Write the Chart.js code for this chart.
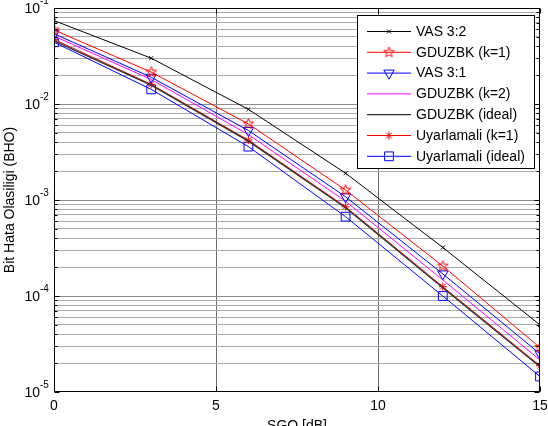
<!DOCTYPE html>
<html><head><meta charset="utf-8">
<script src="https://cdn.jsdelivr.net/npm/chart.js@4.4.1/dist/chart.umd.min.js"></script>
<style>html,body{margin:0;padding:0;background:#fff;}#wrap{width:548px;height:426px;position:relative;}</style>
</head><body><div id="wrap"><canvas id="c"></canvas></div>
<script>
const snr = [0, 3, 6, 9, 12, 15];
const vas32 = [0.074, 0.030, 0.0088, 0.0019, 3.2e-4, 5.0e-5];
const gduzbk1 = [0.059, 0.0215, 0.0062, 0.00127, 2.05e-4, 2.9e-5];
const vas31 = [0.054, 0.019, 0.0053, 0.00108, 1.7e-4, 2.5e-5];
const gduzbk2 = [0.051, 0.018, 0.0048, 0.00097, 1.47e-4, 2.15e-5];
const gduzbkIdeal = [0.0455, 0.0157, 0.0041, 8.3e-4, 1.22e-4, 1.83e-5];
const uyar1 = [0.047, 0.016, 0.0042, 8.5e-4, 1.25e-4, 1.88e-5];
const uyarIdeal = [0.044, 0.0142, 0.0036, 6.7e-4, 1.0e-4, 1.45e-5];
const xTicks = [0, 5, 10, 15];
const yMajorExp = [-5, -4, -3, -2, -1];
const seriesNames = ['VAS 3:2', 'GDUZBK (k=1)', 'VAS 3:1', 'GDUZBK (k=2)', 'GDUZBK (ideal)', 'Uyarlamali (k=1)', 'Uyarlamali (ideal)'];
const xTitle = 'SGO [dB]';
const yTitle = 'Bit Hata Olasiligi (BHO)';

const FONT = '"Liberation Sans", Arial, sans-serif';

function pentagram(color) {
  const c = document.createElement('canvas');
  c.width = 13; c.height = 13;
  const g = c.getContext('2d');
  g.strokeStyle = color; g.lineWidth = 1;
  g.beginPath();
  for (let i = 0; i < 10; i++) {
    const r = i % 2 === 0 ? 5.5 : 2.3;
    const a = -Math.PI / 2 + i * Math.PI / 5;
    const px = 6.5 + r * Math.cos(a), py = 6.5 + r * Math.sin(a);
    if (i === 0) g.moveTo(px, py); else g.lineTo(px, py);
  }
  g.closePath(); g.stroke();
  return c;
}
const starImg = pentagram('#ff0000');

function pts(arr) { return snr.map((x, i) => ({ x: x, y: arr[i] })); }

const datasets = [
  { label: seriesNames[0], data: pts(vas32), borderColor: '#000000', borderWidth: 1, pointStyle: 'crossRot', pointRadius: 2.8, pointBorderWidth: 1 },
  { label: seriesNames[1], data: pts(gduzbk1), borderColor: '#ff0000', borderWidth: 1, pointStyle: starImg, pointRadius: 6, pointBorderWidth: 1 },
  { label: seriesNames[2], data: pts(vas31), borderColor: '#0000ff', borderWidth: 1, pointStyle: 'triangle', pointRadius: 6, pointRotation: 180, pointBorderWidth: 1 },
  { label: seriesNames[3], data: pts(gduzbk2), borderColor: '#ff00ff', borderWidth: 1, pointStyle: 'circle', pointRadius: 0 },
  { label: seriesNames[4], data: pts(gduzbkIdeal), borderColor: '#303030', borderWidth: 1.3, pointStyle: 'circle', pointRadius: 0 },
  { label: seriesNames[5], data: pts(uyar1), borderColor: '#ff0000', borderWidth: 1, pointStyle: 'star', pointRadius: 4, pointBorderWidth: 1 },
  { label: seriesNames[6], data: pts(uyarIdeal), borderColor: '#0000ff', borderWidth: 1, pointStyle: 'rect', pointRadius: 6.2, pointBorderWidth: 1 }
];
datasets.forEach(d => {
  d.backgroundColor = 'rgba(0,0,0,0)';
  d.pointBackgroundColor = 'rgba(0,0,0,0)';
  d.pointBorderColor = d.borderColor;
  d.pointRotation = d.pointRotation || 0;
  d.tension = 0; d.fill = false;
  d.pointHoverRadius = d.pointRadius;
});

const allY = [];
for (let e = -5; e <= -1; e++) {
  for (let m = 1; m <= 9; m++) {
    const v = m * Math.pow(10, e);
    if (v <= 0.1 + 1e-12) allY.push(v);
  }
}
function isMajor(v) { return Math.abs(Math.log10(v) - Math.round(Math.log10(v))) < 1e-9; }

const overlay = {
  id: 'overlay',
  afterDraw(chart) {
    const ctx = chart.ctx, a = chart.chartArea;
    const xs = chart.scales.x, ys = chart.scales.y;
    ctx.save();
    // axis box
    ctx.strokeStyle = '#000'; ctx.lineWidth = 1;
    const L = Math.round(a.left) + 0.5, R = Math.round(a.right) - 0.5, T = Math.round(a.top) + 0.5, B = Math.round(a.bottom) - 0.5;
    ctx.strokeRect(L, T, R - L, B - T);
    // ticks
    ctx.beginPath();
    xTicks.forEach(v => {
      const p = Math.round(xs.getPixelForValue(v)) + 0.5;
      ctx.moveTo(p, B); ctx.lineTo(p, B - 5);
      ctx.moveTo(p, T); ctx.lineTo(p, T + 5);
    });
    allY.forEach(v => {
      const p = Math.round(ys.getPixelForValue(v)) + 0.5;
      const len = isMajor(v) ? 5 : 3;
      ctx.moveTo(L, p); ctx.lineTo(L + len, p);
      ctx.moveTo(R, p); ctx.lineTo(R - len, p);
    });
    ctx.stroke();
    // tick labels
    ctx.fillStyle = '#000';
    ctx.font = '14px ' + FONT;
    ctx.textAlign = 'center'; ctx.textBaseline = 'top';
    xTicks.forEach(v => { ctx.fillText(String(v), xs.getPixelForValue(v), 399); });
    yMajorExp.forEach(e => {
      const p = ys.getPixelForValue(Math.pow(10, e));
      ctx.font = '14px ' + FONT;
      ctx.textAlign = 'right'; ctx.textBaseline = 'middle';
      ctx.fillText('10', 40, p + 1);
      ctx.font = '10px ' + FONT;
      ctx.textAlign = 'left'; ctx.textBaseline = 'middle';
      ctx.fillText(String(e), 40, p - 7);
    });
    // axis titles
    ctx.font = '14px ' + FONT;
    ctx.textAlign = 'center'; ctx.textBaseline = 'top';
    ctx.fillText(xTitle, (a.left + a.right) / 2, 419);
    ctx.save();
    ctx.translate(14, (a.top + a.bottom) / 2);
    ctx.rotate(-Math.PI / 2);
    ctx.textBaseline = 'alphabetic';
    ctx.fillText(yTitle, 0, 0);
    ctx.restore();
    // legend
    const lx = 357.5, ly = 15.5, lw = 177, lh = 153;
    ctx.fillStyle = '#fff';
    ctx.fillRect(lx, ly, lw, lh);
    ctx.strokeStyle = '#000'; ctx.lineWidth = 1;
    ctx.strokeRect(lx, ly, lw, lh);
    chart.data.datasets.forEach((d, i) => {
      const y = 31.5 + i * 20.8;
      ctx.strokeStyle = d.borderColor; ctx.lineWidth = d.borderWidth;
      ctx.beginPath(); ctx.moveTo(367, y); ctx.lineTo(411, y); ctx.stroke();
      if (d.pointRadius > 0) {
        ctx.save();
        ctx.strokeStyle = d.pointBorderColor;
        ctx.fillStyle = 'rgba(0,0,0,0)';
        ctx.lineWidth = d.pointBorderWidth || 1;
        Chart.helpers.drawPoint(ctx, { pointStyle: d.pointStyle, radius: d.pointRadius, rotation: d.pointRotation || 0, borderWidth: d.pointBorderWidth || 1 }, 389, y);
        ctx.restore();
      }
      ctx.fillStyle = '#000';
      ctx.font = '14px ' + FONT;
      ctx.textAlign = 'left'; ctx.textBaseline = 'middle';
      ctx.fillText(d.label, 416, y + 0.5);
    });
    ctx.restore();
  }
};

new Chart(document.getElementById('c'), {
  type: 'line',
  data: { datasets: datasets },
  options: {
    responsive: true,
    maintainAspectRatio: false,
    animation: false,
    devicePixelRatio: 1,
    layout: { padding: { left: 0, right: 8, top: 8, bottom: 0 } },
    plugins: { legend: { display: false }, tooltip: { enabled: false }, title: { display: false } },
    elements: { line: { tension: 0 } },
    scales: {
      x: {
        type: 'linear', min: 0, max: 15,
        ticks: { display: false, stepSize: 5 },
        afterBuildTicks: s => { s.ticks = xTicks.map(v => ({ value: v })); },
        afterFit: s => { s.height = 34; },
        grid: { drawTicks: false, color: c => (c.tick && (c.tick.value === 0 || c.tick.value === 15)) ? 'rgba(0,0,0,0)' : '#6e6e6e', lineWidth: 1 },
        border: { display: false }
      },
      y: {
        type: 'logarithmic', min: 1e-5, max: 1e-1,
        ticks: { display: false },
        afterBuildTicks: s => { s.ticks = allY.map(v => ({ value: v })); },
        afterFit: s => { s.width = 54; },
        grid: { drawTicks: false, color: c => {
          const v = c.tick ? c.tick.value : 0;
          if (Math.abs(v - 1e-5) < 1e-12 || Math.abs(v - 0.1) < 1e-9) return 'rgba(0,0,0,0)';
          return isMajor(v) ? '#8c8c8c' : '#ababab';
        }, lineWidth: 1 },
        border: { display: false }
      }
    }
  },
  plugins: [overlay]
});
</script>
</body></html>
